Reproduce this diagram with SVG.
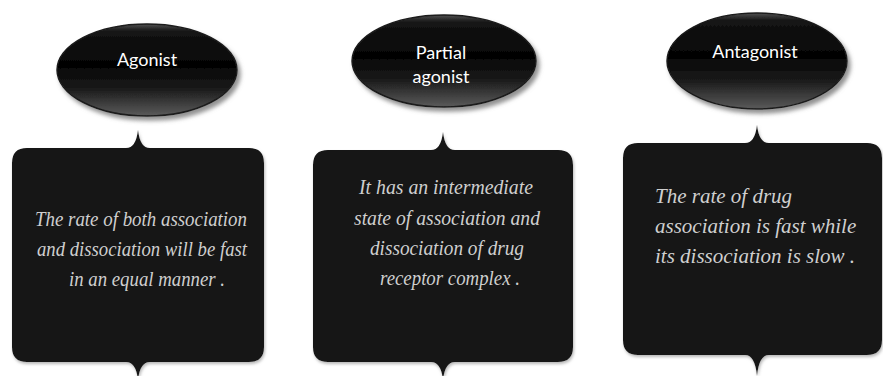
<svg xmlns="http://www.w3.org/2000/svg" width="883" height="376" viewBox="0 0 883 376">
<defs>
<linearGradient id="gloss" x1="0" y1="0" x2="0" y2="1">
<stop offset="0" stop-color="#505050"/>
<stop offset="0.08" stop-color="#141414"/>
<stop offset="0.45" stop-color="#040404"/>
<stop offset="0.7" stop-color="#1a1a1a"/>
<stop offset="1" stop-color="#5a5a5a"/>
</linearGradient>
<filter id="eshadow" x="-20%" y="-20%" width="140%" height="150%">
<feGaussianBlur in="SourceAlpha" stdDeviation="2"/>
<feOffset dx="3" dy="4" result="b"/>
<feFlood flood-color="#777" flood-opacity="0.8"/>
<feComposite in2="b" operator="in"/>
<feMerge><feMergeNode/><feMergeNode in="SourceGraphic"/></feMerge>
</filter>
<filter id="bshadow" x="-10%" y="-10%" width="120%" height="125%">
<feGaussianBlur in="SourceAlpha" stdDeviation="1.5"/>
<feOffset dx="1" dy="2" result="b"/>
<feFlood flood-color="#999" flood-opacity="0.7"/>
<feComposite in2="b" operator="in"/>
<feMerge><feMergeNode/><feMergeNode in="SourceGraphic"/></feMerge>
</filter>
</defs>
<style>
.oval{fill:url(#gloss);stroke:#1a1a1a;stroke-width:1.5;filter:url(#eshadow)}
.box{fill:#151515;filter:url(#bshadow)}
.lbl{font-family:Lato,"Open Sans","Liberation Sans",sans-serif;font-size:18px;fill:#ffffff;text-anchor:middle}
.body{font-family:"Liberation Serif","DejaVu Serif",serif;font-style:italic;font-size:21px;fill:#cfcfcf}
.mid{text-anchor:middle}
</style>
<rect width="883" height="376" fill="#ffffff"/>

<g id="agonist">
<ellipse class="oval" cx="147" cy="70" rx="90" ry="46"/>
<text class="lbl" x="147" y="66">Agonist</text>
</g>
<g id="partial-agonist">
<ellipse class="oval" cx="444" cy="61" rx="92" ry="46"/>
<text class="lbl" x="441" y="59">Partial</text>
<text class="lbl" x="441" y="83">agonist</text>
</g>
<g id="antagonist">
<ellipse class="oval" cx="757" cy="61" rx="90" ry="48"/>
<text class="lbl" x="755" y="58">Antagonist</text>
</g>

<g id="agonist-desc">
<path class="box" d="M27,148 L126,148 Q136,148 138,130 Q140,148 150,148 L249,148 Q264,148 264,163 L264,347 Q264,362 249,362 L150,362 Q140,362 138,380 Q136,362 126,362 L27,362 Q12,362 12,347 L12,163 Q12,148 27,148 Z"/>
<text class="body mid" x="141" y="226" textLength="212" lengthAdjust="spacingAndGlyphs">The rate of both association</text>
<text class="body mid" x="142" y="256" textLength="210" lengthAdjust="spacingAndGlyphs">and dissociation will be fast</text>
<text class="body mid" x="147" y="286" textLength="156" lengthAdjust="spacingAndGlyphs">in an equal manner .</text>
</g>
<g id="partial-desc">
<path class="box" d="M328,150 L431,150 Q441,150 443,132 Q445,150 455,150 L558,150 Q573,150 573,165 L573,347 Q573,362 558,362 L455,362 Q445,362 443,380 Q441,362 431,362 L328,362 Q313,362 313,347 L313,165 Q313,150 328,150 Z"/>
<text class="body mid" x="446" y="194" textLength="174" lengthAdjust="spacingAndGlyphs">It has an intermediate</text>
<text class="body mid" x="447" y="225" textLength="186" lengthAdjust="spacingAndGlyphs">state of association and</text>
<text class="body mid" x="447" y="255" textLength="154" lengthAdjust="spacingAndGlyphs">dissociation of drug</text>
<text class="body mid" x="450" y="285" textLength="140" lengthAdjust="spacingAndGlyphs">receptor complex .</text>
</g>
<g id="antagonist-desc">
<path class="box" d="M638,143 L745,143 Q755,143 757,125 Q759,143 769,143 L867,143 Q882,143 882,158 L882,340 Q882,355 867,355 L769,355 Q759,355 757,376 Q755,355 745,355 L638,355 Q623,355 623,340 L623,158 Q623,143 638,143 Z"/>
<text class="body" x="655" y="203">The rate of drug</text>
<text class="body" x="655" y="233">association is fast while</text>
<text class="body" x="655" y="263">its dissociation is slow .</text>
</g>
</svg>
